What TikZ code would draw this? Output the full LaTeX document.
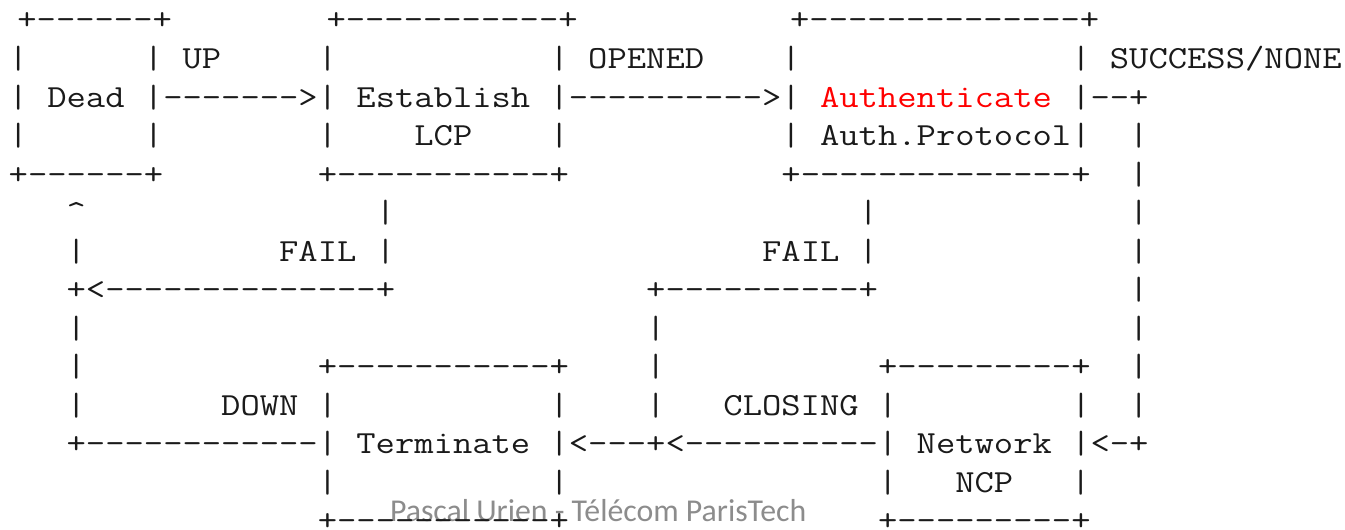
\documentclass[tikz,border=0pt]{standalone}
\usepackage{fontspec}
\newfontfamily\footfont{Carlito}
\definecolor{footgray}{HTML}{8C8C8C}
\definecolor{authred}{HTML}{FF0000}
\definecolor{ink}{HTML}{1A1A1A}
\newcommand\ascline[1]{\scalebox{1.165}[1]{#1}}
\begin{document}
\begin{tikzpicture}[x=0.5pt,y=-0.5pt,
  asc/.style={anchor=base west,inner sep=0pt,outer sep=0pt,
    font=\ttfamily\fontsize{16.1pt}{16.1pt}\selectfont,text=ink},
  foot/.style={anchor=base west,inner sep=0pt,outer sep=0pt,
    font=\footfont\fontsize{15.9pt}{15.9pt}\selectfont,text=footgray}]
\useasboundingbox (0,0) rectangle (1345,530);
% footer (behind the drawing)
\node[foot] (footer) at (390,521) {Pascal Urien - Télécom ParisTech};
% ASCII state diagram, one node per line
\node[asc] (row0) at (17.4,30) {\ascline{+------+~~~~~~~~+-----------+~~~~~~~~~~~+--------------+}};
\node[asc] (row1) at (8.7,68.5) {\ascline{|~~~~~~|~UP~~~~~|~~~~~~~~~~~|~OPENED~~~~|~~~~~~~~~~~~~~|~SUCCESS/NONE}};
\node[asc] (row2) at (8.7,107) {\ascline{|~Dead~|------->|~Establish~|---------->|~\textcolor{authred}{Authenticate}~|--+}};
\node[asc] (row3) at (8.7,145.5) {\ascline{|~~~~~~|~~~~~~~~|~~~~LCP~~~~|~~~~~~~~~~~|~Auth.Protocol|~~|}};
\node[asc] (row4) at (8.7,184) {\ascline{+------+~~~~~~~~+-----------+~~~~~~~~~~~+--------------+~~|}};
\node[asc] (row5) at (8.7,222.5) {\ascline{~~~\textasciicircum~~~~~~~~~~~~~~~|~~~~~~~~~~~~~~~~~~~~~~~~|~~~~~~~~~~~~~|}};
\node[asc] (row6) at (8.7,261) {\ascline{~~~|~~~~~~~~~~FAIL~|~~~~~~~~~~~~~~~~~~~FAIL~|~~~~~~~~~~~~~|}};
\node[asc] (row7) at (8.7,299.5) {\ascline{~~~+<--------------+~~~~~~~~~~~~~+----------+~~~~~~~~~~~~~|}};
\node[asc] (row8) at (8.7,338) {\ascline{~~~|~~~~~~~~~~~~~~~~~~~~~~~~~~~~~|~~~~~~~~~~~~~~~~~~~~~~~~|}};
\node[asc] (row9) at (8.7,376.5) {\ascline{~~~|~~~~~~~~~~~~+-----------+~~~~|~~~~~~~~~~~+---------+~~|}};
\node[asc] (row10) at (8.7,415) {\ascline{~~~|~~~~~~~DOWN~|~~~~~~~~~~~|~~~~|~~~CLOSING~|~~~~~~~~~|~~|}};
\node[asc] (row11) at (8.7,453.5) {\ascline{~~~+------------|~Terminate~|<---+<----------|~Network~|<-+}};
\node[asc] (row12) at (8.7,492) {\ascline{~~~~~~~~~~~~~~~~|~~~~~~~~~~~|~~~~~~~~~~~~~~~~|~~~NCP~~~|}};
\node[asc] (row13) at (8.7,530.5) {\ascline{~~~~~~~~~~~~~~~~+-----------+~~~~~~~~~~~~~~~~+---------+}};
\end{tikzpicture}
\end{document}
